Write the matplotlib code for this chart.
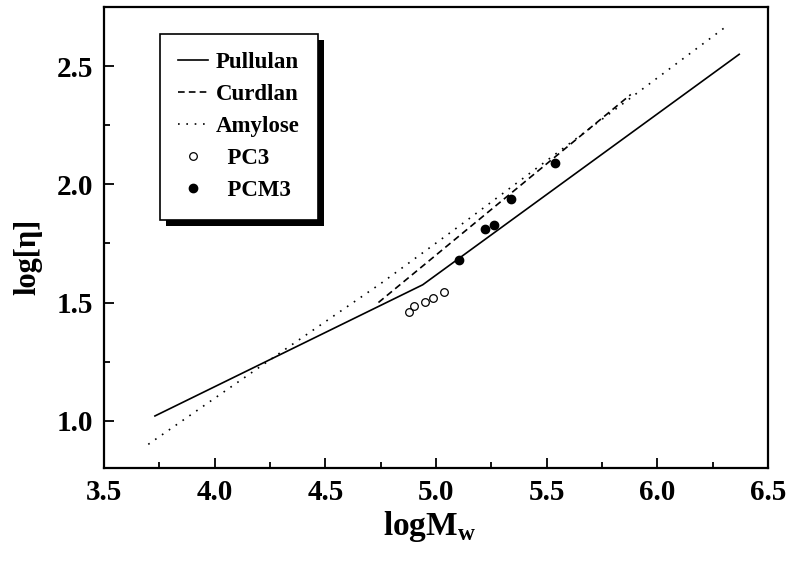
import matplotlib
matplotlib.use("Agg")
import matplotlib.pyplot as plt
from matplotlib.patches import Rectangle
from matplotlib.transforms import IdentityTransform
from matplotlib.ticker import MultipleLocator, FormatStrFormatter

plt.rcParams['font.family'] = ['Liberation Serif', 'DejaVu Serif']
plt.rcParams['font.weight'] = 'bold'
plt.rcParams['mathtext.fontset'] = 'custom'
plt.rcParams['mathtext.rm'] = 'Liberation Serif:bold'

# Data
pullulan_x = [3.73, 4.94, 6.37]
pullulan_y = [1.02, 1.575, 2.55]
curdlan_x = [4.74, 5.88]
curdlan_y = [1.50, 2.38]
amylose_x = [3.70, 4.30, 4.75, 5.10, 5.50, 6.30]
amylose_y = [0.90, 1.29, 1.58, 1.82, 2.10, 2.66]
pc3_x = [4.876, 4.899, 4.949, 4.985, 5.034]
pc3_y = [1.458, 1.486, 1.504, 1.521, 1.545]
pcm3_x = [5.105, 5.223, 5.260, 5.340, 5.539]
pcm3_y = [1.680, 1.810, 1.827, 1.937, 2.092]

fig = plt.figure(figsize=(7.88, 5.62), dpi=100)
ax = fig.add_axes([0.132, 0.1673, 0.8426, 0.8202])

ax.plot(pullulan_x, pullulan_y, color='black', lw=1.2, ls='-', label='Pullulan')
ax.plot(curdlan_x, curdlan_y, color='black', lw=1.2, ls=(0, (4, 2.5)), label='Curdlan')
ax.plot(amylose_x, amylose_y, color='black', lw=1.2, ls=(0, (1, 4)), label='Amylose')
ax.plot(pc3_x, pc3_y, ls='none', marker='o', ms=5.5, mfc='white', mec='black', mew=0.9, label='  PC3')
ax.plot(pcm3_x, pcm3_y, ls='none', marker='o', ms=6, mfc='black', mec='black', label='  PCM3')

ax.set_xlim(3.5, 6.5)
ax.set_ylim(0.8, 2.75)
ax.xaxis.set_major_locator(MultipleLocator(0.5))
ax.xaxis.set_minor_locator(MultipleLocator(0.25))
ax.yaxis.set_major_locator(MultipleLocator(0.5))
ax.yaxis.set_minor_locator(MultipleLocator(0.25))
ax.xaxis.set_major_formatter(FormatStrFormatter('%.1f'))
ax.yaxis.set_major_formatter(FormatStrFormatter('%.1f'))
ax.tick_params(which='both', direction='in', top=False, right=False, width=1.3)
ax.tick_params(which='major', length=7, labelsize=21, pad=8)
ax.tick_params(which='minor', length=4)
for s in ax.spines.values():
    s.set_linewidth(1.6)

ax.set_xlabel(r'logM$_{\mathrm{w}}$', fontsize=24, fontweight='bold')
ax.xaxis.set_label_coords(0.491, -0.09)
ax.set_ylabel('log[η]', fontsize=22, fontweight='bold')
ax.yaxis.set_label_coords(-0.093, 0.458)

leg = ax.legend(loc='upper left', bbox_to_anchor=(0.084, 0.942), borderaxespad=0,
                fancybox=False, frameon=True, edgecolor='black', framealpha=1,
                prop={'family': 'Liberation Serif', 'weight': 'bold', 'size': 16.5},
                handlelength=1.3, handletextpad=0.35, labelspacing=0.48, borderpad=0.8)
leg.get_frame().set_linewidth(1.2)
leg.set_zorder(6)

fig.canvas.draw()
bb = leg.get_frame().get_window_extent()
shadow = Rectangle((bb.x0 + 6, bb.y0 - 6), bb.width, bb.height, transform=IdentityTransform(),
                   facecolor='black', edgecolor='none', zorder=5.5, clip_on=False)
ax.add_patch(shadow)

fig.savefig('out.png', dpi=100)
